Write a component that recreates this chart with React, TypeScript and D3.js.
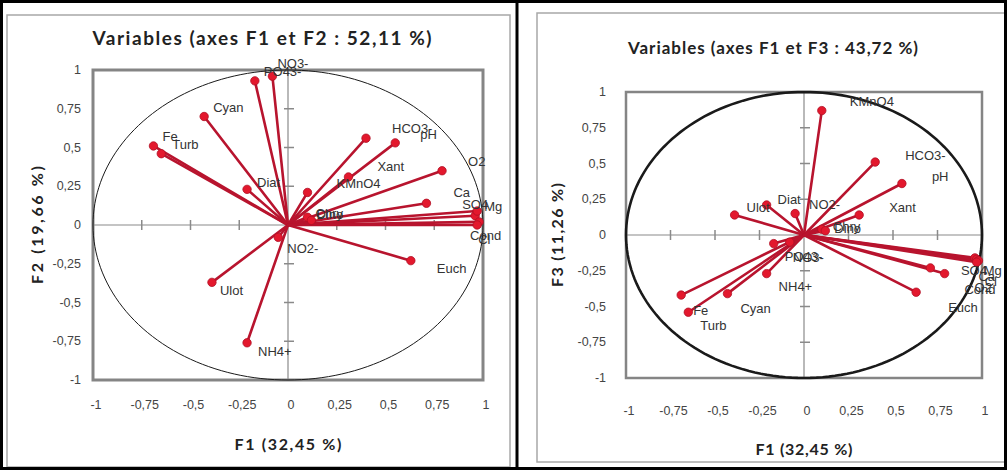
import React from "react";
import * as d3 from "d3";

// ---- data ----
const variables = ["Fe", "Turb", "Cyan", "PO43-", "NO3-", "Diat", "NO2-", "Ulot", "NH4+", "Chry", "Dino", "KMnO4", "Xant", "HCO3-", "pH", "O2", "Ca", "Euch", "SO4", "Mg", "Cond", "Cl"];
const f1Values = [-0.69, -0.65, -0.43, -0.17, -0.08, -0.21, -0.05, -0.39, -0.21, 0.10, 0.12, 0.10, 0.31, 0.40, 0.55, 0.79, 0.71, 0.63, 0.96, 0.97, 0.98, 0.97];
const f2Values = [0.51, 0.46, 0.70, 0.93, 0.96, 0.23, -0.08, -0.37, -0.76, 0.05, 0.03, 0.21, 0.31, 0.56, 0.53, 0.35, 0.14, -0.23, 0.06, 0.09, 0.02, 0.00];
const f3Values = [-0.42, -0.54, -0.41, -0.06, -0.05, 0.21, 0.15, 0.14, -0.27, 0.04, 0.03, 0.87, 0.14, 0.51, 0.36, -0.27, -0.23, -0.40, -0.16, -0.17, -0.18, -0.19];
const tickValues = [-1, -0.75, -0.5, -0.25, 0, 0.25, 0.5, 0.75, 1];
const tickLabels = ["-1", "-0,75", "-0,5", "-0,25", "0", "0,25", "0,5", "0,75", "1"];

// ---- label nudges (style) ----
const leftLabelOffsets: Record<string, [number, number]> = {
  "Fe": [9, -9], "Turb": [11, -9], "Cyan": [9, -9], "PO43-": [9, -9], "NO3-": [5, -13],
  "Diat": [10, -7], "NO2-": [9, 11], "Ulot": [8, 8], "NH4+": [11, 9],
  "Chry": [8, -4], "Dino": [5, -6], "KMnO4": [29, -9], "Xant": [29, -10],
  "HCO3-": [26, -10], "pH": [25, -8], "O2": [26, -9], "Ca": [27, -11], "Euch": [26, 8],
  "SO4": [-13, -11], "Mg": [7, -5], "Cond": [-9, 14], "Cl": [1, 14],
};
const rightLabelOffsets: Record<string, [number, number]> = {
  "Fe": [12, 15], "Turb": [12, 13], "Cyan": [13, 15], "PO43-": [11, 13], "NO3-": [3, 15],
  "Diat": [11, -5], "NO2-": [14, -9], "Ulot": [12, -7], "NH4+": [12, 13],
  "Chry": [11, -3], "Dino": [9, -2], "KMnO4": [28, -9], "Xant": [30, -7],
  "HCO3-": [30, -7], "pH": [30, -7], "O2": [30, 14], "Ca": [48, 9], "Euch": [32, 15],
  "SO4": [-14, 13], "Mg": [7, 11], "Cond": [-14, 29], "Cl": [8, 19],
};

type PanelProps = {
  title: string; xTitle: string; yTitle: string;
  xs: number[]; ys: number[];
  x0: number; x1: number; y0: number; y1: number;
  titleX: number; titleY: number; titleSize: number; titleLen: number;
  xTitleY: number; yTitleX: number; xTitleLen: number; yTitleLen: number;
  yLabelRight: number; xLabelY: number;
  ellipseWidth: number; boxWidth: number;
  offsets: Record<string, [number, number]>;
};

function Panel(p: PanelProps) {
  const x = d3.scaleLinear().domain([-1, 1]).range([p.x0, p.x1]);
  const y = d3.scaleLinear().domain([-1, 1]).range([p.y1, p.y0]);
  const cx = x(0), cy = y(0);
  const circle = d3.range(0, 361, 2).map((a) => [Math.cos((a * Math.PI) / 180), Math.sin((a * Math.PI) / 180)] as [number, number]);
  const ellipsePath = d3.line<[number, number]>().x((d) => x(d[0])).y((d) => y(d[1]))(circle) || "";
  const labelFont = "'Liberation Sans', Arial, sans-serif";
  const titleFont = "Lato, 'Open Sans', sans-serif";
  return (
    <g>
      <text x={p.titleX} y={p.titleY} textAnchor="middle" dominantBaseline="central"
        fontFamily={titleFont} fontWeight="bold" fontSize={p.titleSize} fill="#222"
        textLength={p.titleLen} lengthAdjust="spacing">{p.title}</text>
      <rect x={p.x0} y={p.y0} width={p.x1 - p.x0} height={p.y1 - p.y0} fill="none" stroke="#858585" strokeWidth={p.boxWidth} />
      <line x1={p.x0} x2={p.x1} y1={cy} y2={cy} stroke="#8a8a8a" strokeWidth={1.2} />
      <line x1={cx} x2={cx} y1={p.y0} y2={p.y1} stroke="#8a8a8a" strokeWidth={1.2} />
      {tickValues.filter((t) => t !== 0 && Math.abs(t) !== 1).map((t) => (
        <g key={"t" + t}>
          <line x1={x(t)} x2={x(t)} y1={cy - 5} y2={cy + 5} stroke="#8a8a8a" strokeWidth={1.5} />
          <line x1={cx - 4} x2={cx + 6} y1={y(t)} y2={y(t)} stroke="#8a8a8a" strokeWidth={1.5} />
        </g>
      ))}
      <path d={ellipsePath} fill="none" stroke="#1a1a1a" strokeWidth={p.ellipseWidth} />
      {tickValues.map((t, i) => (
        <text key={"yl" + t} x={p.yLabelRight} y={y(t)} textAnchor="end" dominantBaseline="central"
          fontFamily={labelFont} fontSize={12.5} fill="#444">{tickLabels[i]}</text>
      ))}
      {tickValues.map((t, i) => (
        <text key={"xl" + t} x={x(t) + 3} y={p.xLabelY} textAnchor="middle" dominantBaseline="central"
          fontFamily={labelFont} fontSize={12.5} fill="#444">{tickLabels[i]}</text>
      ))}
      {variables.map((v, i) => (
        <line key={"v" + v} x1={cx} y1={cy} x2={x(p.xs[i])} y2={y(p.ys[i])} stroke="#b8142e" strokeWidth={2.6} strokeLinecap="round" />
      ))}
      {variables.map((v, i) => (
        <circle key={"c" + v} cx={x(p.xs[i])} cy={y(p.ys[i])} r={4.2} fill="#e3182d" stroke="#b00f25" strokeWidth={0.8} />
      ))}
      {variables.map((v, i) => {
        const o = p.offsets[v] || [10, -8];
        return (
          <text key={"l" + v} x={x(p.xs[i]) + o[0]} y={y(p.ys[i]) + o[1]} dominantBaseline="central"
            fontFamily={labelFont} fontSize={13} fill="#333">{v}</text>
        );
      })}
      <text x={cx} y={p.xTitleY} textAnchor="middle" dominantBaseline="central"
        fontFamily={titleFont} fontWeight="bold" fontSize={16} fill="#222"
        textLength={p.xTitleLen} lengthAdjust="spacing">{p.xTitle}</text>
      <text transform={`translate(${p.yTitleX},${cy}) rotate(-90)`} textAnchor="middle" dominantBaseline="central"
        fontFamily={titleFont} fontWeight="bold" fontSize={16} fill="#222"
        textLength={p.yTitleLen} lengthAdjust="spacing">{p.yTitle}</text>
    </g>
  );
}

export default function App() {
  return (
    <svg width={1007} height={470} style={{ position: "absolute", left: 0, top: 0, background: "#fff" }}>
      <rect x={0} y={0} width={1007} height={470} fill="#fff" />
      <rect x={7} y={15} width={503} height={452} fill="none" stroke="#a8a8a8" strokeWidth={1.5} />
      <rect x={537} y={13} width={468} height={449} fill="none" stroke="#a8a8a8" strokeWidth={1.5} />
      <Panel title="Variables (axes F1 et F2 : 52,11 %)" xTitle="F1 (32,45 %)" yTitle="F2 (19,66 %)"
        xs={f1Values} ys={f2Values} x0={93} x1={483} y0={70} y1={380}
        titleX={262} titleY={37} titleSize={19} titleLen={339} xTitleY={443} yTitleX={36}
        xTitleLen={107} yTitleLen={118}
        yLabelRight={81} xLabelY={405} ellipseWidth={1} boxWidth={3} offsets={leftLabelOffsets} />
      <Panel title="Variables (axes F1 et F3 : 43,72 %)" xTitle="F1 (32,45 %)" yTitle="F3 (11,26 %)"
        xs={f1Values} ys={f3Values} x0={626} x1={982} y0={92} y1={378}
        titleX={773} titleY={47} titleSize={17} titleLen={290} xTitleY={448} yTitleX={556}
        xTitleLen={97} yTitleLen={104}
        yLabelRight={606} xLabelY={411} ellipseWidth={2.6} boxWidth={2.5} offsets={rightLabelOffsets} />
      <line x1={517} x2={517} y1={0} y2={470} stroke="#000" strokeWidth={3} />
      <rect x={1.5} y={1.5} width={1004} height={467} fill="none" stroke="#000" strokeWidth={3} />
    </svg>
  );
}
